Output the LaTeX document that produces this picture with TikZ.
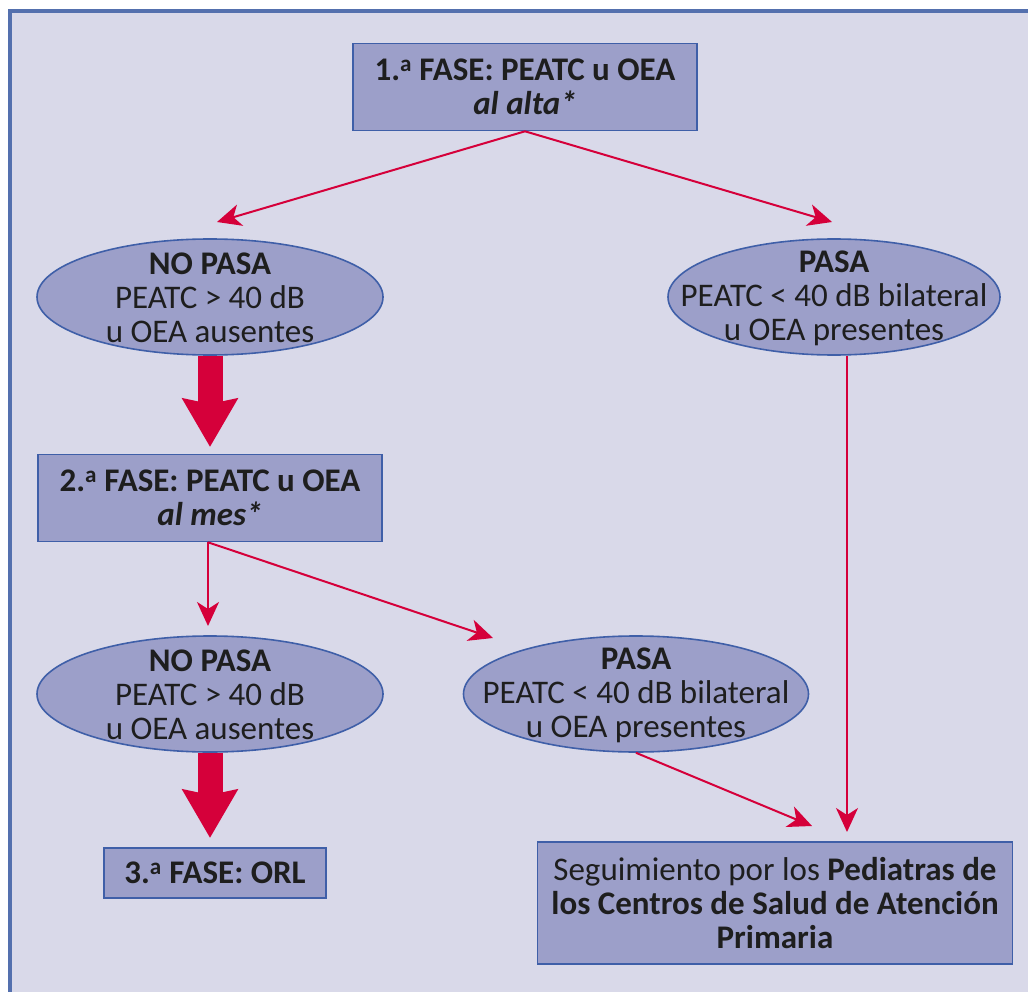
\documentclass[tikz,border=0pt]{standalone}
\usepackage{fontspec}
\setmainfont{Carlito}
\usetikzlibrary{shapes.geometric,arrows.meta}
\definecolor{bgc}{HTML}{D9D9E9}
\definecolor{boxc}{HTML}{9C9FC9}
\definecolor{edgec}{HTML}{3F5FA8}
\definecolor{framec}{HTML}{5470AE}
\definecolor{arrc}{HTML}{D5003A}
\definecolor{txt}{HTML}{1E1E1E}
\tikzset{
 stepbox/.style={draw=edgec, fill=boxc, line width=1.6pt, rectangle, inner sep=0pt, align=center},
 oval/.style={draw=edgec, fill=boxc, line width=1.6pt, ellipse, inner sep=0pt, minimum height=116pt},
 ovaltext/.style={align=center, inner sep=0pt},
 thinarrow/.style={draw=arrc, line width=2pt, -{Stealth[length=24pt,width=22pt,inset=7pt]}},
 thickarrow/.style={draw=arrc, line width=25pt, -{Stealth[length=48pt,width=54pt,inset=5pt]}},
}
\newcommand{\ord}{\textsuperscript{a}}
\begin{document}
\begin{tikzpicture}[x=1pt,y=-1pt, font=\fontsize{33}{34}\selectfont, text=txt]
\useasboundingbox (0,0) rectangle (1028,992);
\fill[white] (0,0) rectangle (1028,992);
\draw[fill=bgc, draw=framec, line width=4pt] (10,11) rectangle (1060,1025);

% nodes
\node[stepbox, minimum width=344pt, minimum height=87pt] (b1) at (525,87)
  {\textbf{1.\ord\ FASE: PEATC u OEA}\\\textbf{\textit{al alta*}}};

\node[oval, minimum width=346pt] (e1) at (210,297) {};
\node[ovaltext] (e1t) at (210,298) {\textbf{NO PASA}\\PEATC > 40 dB\\u OEA ausentes};

\node[oval, minimum width=332pt] (e2) at (834,297) {};
\node[ovaltext] (e2t) at (834,298) {\textbf{PASA}\\PEATC < 40 dB bilateral\\u OEA presentes};

\node[stepbox, minimum width=344pt, minimum height=87pt] (b2) at (210,498)
  {\textbf{2.\ord\ FASE: PEATC u OEA}\\\textbf{\textit{al mes*}}};

\node[oval, minimum width=346pt] (e3) at (210,694) {};
\node[ovaltext] (e3t) at (210,695) {\textbf{NO PASA}\\PEATC > 40 dB\\u OEA ausentes};

\node[oval, minimum width=345pt] (e4) at (636,694) {};
\node[ovaltext] (e4t) at (636,695) {\textbf{PASA}\\PEATC < 40 dB bilateral\\u OEA presentes};

\node[stepbox, minimum width=222pt, minimum height=50pt] (b3) at (215,873)
  {\textbf{3.\ord\ FASE: ORL}};

\node[stepbox, minimum width=475pt, minimum height=122pt] (b4) at (775,903)
  {Seguimiento por los \textbf{Pediatras de}\\\textbf{los Centros de Salud de Atención}\\\textbf{Primaria}};

% arrow tips
\coordinate (t1) at (217,222);
\coordinate (t2) at (832,222);
\coordinate (t3) at (847,832);
\coordinate (t4) at (208,626);
\coordinate (t5) at (493,638);
\coordinate (t6) at (812,826);
\coordinate (t7) at (210,447);
\coordinate (t8) at (210,838);

% connectors
\draw[thinarrow] (b1.south) -- (t1);
\draw[thinarrow] (b1.south) -- (t2);
\draw[thinarrow] (t3 |- e2.south) -- (t3);
\draw[thinarrow] (b2.south -| t4) -- (t4);
\draw[thinarrow] (b2.south -| t4) -- (t5);
\draw[thinarrow] (e4.south) -- (t6);
\draw[thickarrow] (e1.south) -- (t7);
\draw[thickarrow] (e3.south) -- (t8);
\end{tikzpicture}
\end{document}
